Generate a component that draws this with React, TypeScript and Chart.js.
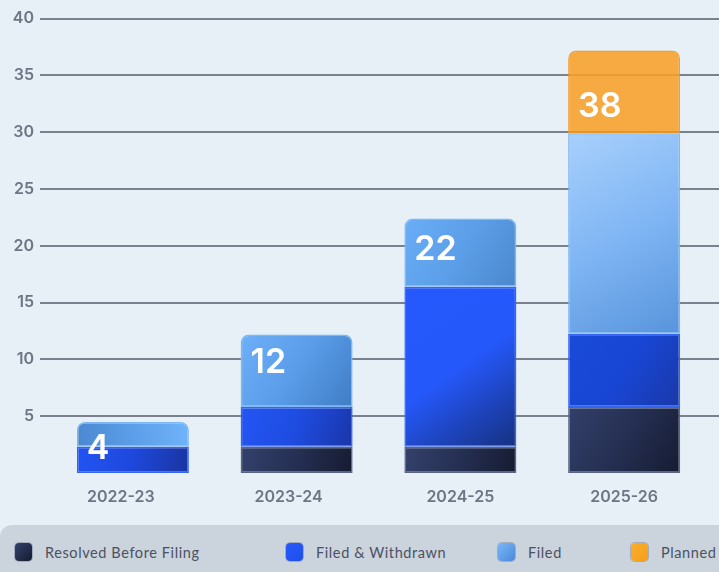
import React, { useEffect, useRef } from "react";
import { Chart, registerables } from "chart.js";

Chart.register(...registerables);

const CATEGORIES = ["2022-23", "2023-24", "2024-25", "2025-26"];
const SERIES_LABELS = ["Resolved Before Filing", "Filed & Withdrawn", "Filed", "Planned"];
const RESOLVED = [0, 2.3, 2.3, 5.8];
const WITHDRAWN = [2.3, 3.5, 14.1, 6.45];
const FILED = [2.2, 6.4, 6.0, 17.65];
const PLANNED = [0, 0, 0, 7.3];
const TOTALS = [4, 12, 22, 38];
const Y_TICKS = [0, 5, 10, 15, 20, 25, 30, 35, 40];

const SERIES = [RESOLVED, WITHDRAWN, FILED, PLANNED];

// styling
const BAR_PCT = 0.684;
const LABEL_DY = [27, 28, 31, 56];
const XLABEL_SHIFT = [-12, -8, 0, 0];
const GRAD_START = [
  ["#34416c", "#34416c", "#34416c", "#33406a"],
  ["#2254f4", "#2456f5", "#2659fd", "#1a4ad8"],
  ["#5aa0ee", "#6db0f8", "#6aaef8", "#a8d0fc"],
  ["rgba(248,160,40,0.88)", "rgba(248,160,40,0.88)", "rgba(248,160,40,0.88)", "rgba(248,160,40,0.88)"],
];
const GRAD_MID = [
  ["#252f52", "#252f52", "#252f52", "#252f52"],
  ["#1e48dc", "#1e4ce0", "#2558fa", "#1846d4"],
  ["#5c9ee8", "#5a9ce8", "#5c9ee8", "#80b6f4"],
  ["rgba(248,160,40,0.88)", "rgba(248,160,40,0.88)", "rgba(248,160,40,0.88)", "rgba(248,160,40,0.88)"],
];
const GRAD_END = [
  ["#161b31", "#161b31", "#161b31", "#161b31"],
  ["#1a34a0", "#1a35a8", "#16307f", "#1a38a8"],
  ["#70b4fa", "#3f7cc4", "#4a88cc", "#5894dc"],
  ["rgba(248,160,40,0.88)", "rgba(248,160,40,0.88)", "rgba(248,160,40,0.88)", "rgba(248,160,40,0.88)"],
];
const BORDER = ["#5a6586", "#3566f2", "#7fb6f4", "rgba(240,150,30,0.9)"];
const SWATCH = [
  ["#34416c", "#161b31"],
  ["#2659fd", "#2050e8"],
  ["#7ab8fa", "#4a88d8"],
  ["#fbae2c", "#f59e1c"],
];
const LEGEND_LEFT = [15, 286, 498, 631];
const CANVAS_SHIFT = 8;

function topIndex(i: number) {
  let t = 0;
  SERIES.forEach((s, k) => {
    if (s[i] > 0) t = k;
  });
  return t;
}

function segBox(chart: any, di: number, i: number) {
  const xs = chart.scales.x;
  const ys = chart.scales.y;
  const cx = xs.getPixelForValue(i);
  const half = ((xs.width / CATEGORIES.length) * BAR_PCT) / 2;
  let start = 0;
  for (let k = 0; k < di; k++) start += SERIES[k][i];
  const end = start + SERIES[di][i];
  return { x0: cx - half, x1: cx + half, y0: ys.getPixelForValue(end), y1: ys.getPixelForValue(start) };
}

export default function App() {
  const ref = useRef<HTMLCanvasElement | null>(null);

  useEffect(() => {
    document.body.style.margin = "0";
    document.body.style.background = "#e6f0f6";
    const canvas = ref.current;
    if (!canvas) return;

    const gridPlugin = {
      id: "fullGrid",
      beforeDatasetsDraw(chart: any) {
        const ctx = chart.ctx;
        const ys = chart.scales.y;
        ctx.save();
        ctx.strokeStyle = "#7a808c";
        ctx.lineWidth = 2;
        Y_TICKS.forEach((v) => {
          if (v === 0) return;
          const y = Math.round(ys.getPixelForValue(v));
          ctx.beginPath();
          ctx.moveTo(40, y);
          ctx.lineTo(chart.width, y);
          ctx.stroke();
        });
        ctx.restore();
      },
    };

    const labelPlugin = {
      id: "totals",
      afterDatasetsDraw(chart: any) {
        const ctx = chart.ctx;
        const xs = chart.scales.x;
        const ys = chart.scales.y;
        const half = ((xs.width / CATEGORIES.length) * BAR_PCT) / 2;
        ctx.save();
        ctx.fillStyle = "#ffffff";
        ctx.font = "600 34px Inter";
        ctx.textAlign = "left";
        ctx.textBaseline = "middle";
        CATEGORIES.forEach((_, i) => {
          let sum = 0;
          SERIES.forEach((s) => (sum += s[i]));
          const top = ys.getPixelForValue(sum);
          const x = xs.getPixelForValue(i) - half + 10;
          ctx.fillText(String(TOTALS[i]), x, top + LABEL_DY[i]);
        });
        // category labels
        ctx.fillStyle = "#6e7585";
        ctx.font = "600 16px Inter";
        ctx.textAlign = "center";
        ctx.textBaseline = "middle";
        CATEGORIES.forEach((cat, i) => {
          ctx.fillText(cat, xs.getPixelForValue(i) + XLABEL_SHIFT[i], xs.top + 24);
        });
        ctx.restore();
      },
    };

    const datasets = SERIES.map((data, di) => ({
      label: SERIES_LABELS[di],
      data,
      backgroundColor: (c: any) => {
        if (c.type !== "data" || !c.chart.chartArea) return GRAD_START[di][0];
        const i = c.dataIndex;
        const b = segBox(c.chart, di, i);
        if (di === 2 && i === 0) {
          const g2 = c.chart.ctx.createLinearGradient(b.x0, b.y1, b.x1, b.y0);
          g2.addColorStop(0, "#4a88d0");
          g2.addColorStop(0.5, "#5c9ee8");
          g2.addColorStop(1, "#70b4fa");
          return g2;
        }
        const g = c.chart.ctx.createLinearGradient(b.x0, b.y0, b.x1, b.y1);
        g.addColorStop(0, GRAD_START[di][i]);
        g.addColorStop(0.5, GRAD_MID[di][i]);
        g.addColorStop(1, GRAD_END[di][i]);
        return g;
      },
      borderColor: BORDER[di],
      borderWidth: 1.5,
      borderSkipped: false as any,
      borderRadius: (c: any) => {
        if (c.type !== "data") return 0;
        return topIndex(c.dataIndex) === di
          ? { topLeft: 8, topRight: 8, bottomLeft: 0, bottomRight: 0 }
          : 0;
      },
      categoryPercentage: 1,
      barPercentage: BAR_PCT,
    }));

    const chart = new Chart(canvas, {
      type: "bar",
      data: { labels: CATEGORIES, datasets },
      options: {
        animation: false,
        responsive: false,
        layout: { padding: { top: 8.5, right: 13, left: 0, bottom: 0 } },
        plugins: { legend: { display: false }, tooltip: { enabled: false } },
        scales: {
          x: {
            stacked: true,
            grid: { display: false, drawTicks: false },
            border: { display: false },
            ticks: { display: false },
            afterFit: (s: any) => {
              s.height = 54;
            },
          },
          y: {
            stacked: true,
            min: 0,
            max: 40,
            grid: { display: false, drawTicks: false },
            border: { display: false },
            afterBuildTicks: (s: any) => {
              s.ticks = Y_TICKS.map((v) => ({ value: v }));
            },
            ticks: {
              padding: 17,
              color: "#6e7585",
              font: { family: "Inter", size: 16, weight: "600" as any },
              callback: (v: any) => (v === 0 ? "" : String(v)),
            },
            afterFit: (s: any) => {
              s.width = 51;
            },
          },
        },
      },
      plugins: [gridPlugin, labelPlugin],
    });
    return () => chart.destroy();
  }, []);

  return (
    <div
      style={{
        position: "relative",
        width: 719,
        height: 572,
        overflow: "hidden",
        background: "#e6f0f6",
      }}
    >
      <canvas
        ref={ref}
        width={719}
        height={527 + CANVAS_SHIFT}
        style={{ position: "absolute", left: 0, top: -CANVAS_SHIFT }}
      />
      <div
        style={{
          position: "absolute",
          left: 0,
          top: 525,
          width: 780,
          height: 70,
          background: "#cbd3dc",
          borderRadius: 12,
        }}
      >
        {SERIES_LABELS.map((lab, k) => (
          <div
            key={lab}
            style={{
              position: "absolute",
              left: LEGEND_LEFT[k],
              top: 18,
              display: "flex",
              alignItems: "center",
              whiteSpace: "nowrap",
            }}
          >
            <span
              style={{
                display: "inline-block",
                width: 17,
                height: 18,
                borderRadius: 4,
                background: `linear-gradient(135deg, ${SWATCH[k][0]}, ${SWATCH[k][1]})`,
                boxShadow: "0 0 0 1px rgba(90,100,130,0.35)",
                marginRight: 13,
              }}
            />
            <span
              style={{
                fontFamily: "Lato, 'Noto Sans', sans-serif",
                fontSize: 14.5,
                letterSpacing: 0.6,
                color: "#4a5163",
              }}
            >
              {lab}
            </span>
          </div>
        ))}
      </div>
    </div>
  );
}
